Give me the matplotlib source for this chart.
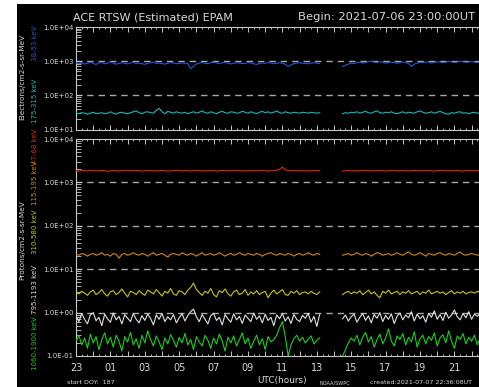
import numpy as np
import matplotlib
matplotlib.use('Agg')
import matplotlib.pyplot as plt
from matplotlib.ticker import FixedLocator, LogLocator, FuncFormatter, NullFormatter
from matplotlib.patches import Rectangle

W, H = 479, 387
nan = np.nan

# ---------------- data (10-min cadence, hours since 2021-07-06 23:00 UTC) -------------
# pre-gap values (86) , gap (7), post-gap values (49)
e38_53_pre = [880, 850, 900, 820, 870, 930, 860, 800, 890, 910, 840, 870, 950, 880, 820, 860, 900, 870, 830, 890,
              920, 860, 880, 840, 810, 870, 900, 930, 860, 880, 850, 820, 870, 910, 880, 840, 860, 890, 870, 850,
              600, 720, 830, 880, 910, 870, 840, 900, 940, 880, 860, 890, 920, 870, 830, 860, 900, 880, 850, 870,
              910, 880, 840, 800, 860, 890, 870, 910, 880, 840, 870, 900, 860, 820, 700, 780, 850, 880, 900, 870,
              860, 840, 880, 900, 870, 850]
e38_53_post = [700, 760, 820, 880, 850, 900, 930, 880, 910, 960, 1000, 940, 900, 960, 920, 880, 900, 940, 910, 870,
               920, 950, 900, 860, 700, 820, 880, 920, 900, 950, 930, 880, 910, 960, 940, 900, 930, 980, 950, 910,
               940, 1000, 960, 920, 950, 980, 930, 900, 940]

e175_315_pre = [30, 29, 31, 30, 28, 30, 32, 29, 30, 31, 29, 30, 33, 30, 28, 31, 32, 30, 29, 31,
                33, 35, 31, 29, 32, 33, 31, 30, 36, 42, 33, 29, 34, 32, 30, 33, 31, 30, 32, 29,
                31, 33, 30, 32, 35, 31, 30, 33, 31, 29, 32, 34, 31, 30, 33, 32, 30, 31, 34, 32,
                30, 33, 31, 29, 32, 34, 31, 33, 30, 32, 35, 31, 30, 33, 31, 30, 32, 31, 30, 32,
                31, 30, 32, 31, 30, 31]
e175_315_post = [29, 31, 30, 32, 31, 33, 30, 32, 34, 31, 30, 33, 35, 31, 30, 32, 31, 33, 30, 29,
                 31, 33, 30, 32, 31, 30, 33, 35, 32, 30, 31, 33, 30, 32, 34, 31, 29, 28, 31, 30,
                 32, 33, 30, 31, 29, 31, 32, 30, 31]

p47_68_pre = [1850, 1820, 1880, 1860, 1840, 1900, 1870, 1830, 1860, 1890, 1850, 1800, 1840, 1880, 1860, 1830, 1870, 1850, 1900, 1860,
              1840, 1880, 1850, 1820, 1860, 1890, 1840, 1870, 1830, 1850, 1880, 1860, 1820, 1850, 1870, 1900, 1860, 1840, 1880, 1850,
              1830, 1860, 1890, 1850, 1820, 1870, 1840, 1880, 1860, 1830, 1850, 1880, 1860, 1840, 1870, 1850, 1890, 1860, 1830, 1850,
              1870, 1840, 1880, 1850, 1860, 1890, 1850, 1830, 1870, 1860, 1900, 2000, 2250, 1950, 1870, 1850, 1880, 1840, 1860, 1870,
              1850, 1830, 1860, 1880, 1850, 1860]
p47_68_post = [1820, 1850, 1880, 1840, 1860, 1830, 1870, 1850, 1890, 1860, 1840, 1870, 1850, 1880, 1860, 1830, 1850, 1900, 1870, 1840,
               1860, 1880, 1850, 1830, 1860, 1890, 1850, 1870, 1840, 1860, 1880, 1850, 1830, 1870, 1860, 1890, 1850, 1840, 1870, 1860,
               1880, 1850, 1830, 1860, 1880, 1850, 1870, 1840, 1860]

p115_195_pre = [22, 21, 23, 22, 20, 22, 23, 21, 22, 24, 21, 22, 20, 23, 22, 18, 22, 23, 21, 22,
                24, 22, 21, 23, 22, 20, 22, 24, 21, 22, 23, 21, 19, 22, 23, 22, 21, 24, 22, 21,
                23, 22, 20, 22, 24, 21, 22, 23, 21, 22, 24, 22, 20, 22, 23, 21, 22, 24, 22, 21,
                23, 22, 21, 23, 22, 20, 22, 23, 24, 22, 21, 23, 22, 21, 23, 22, 20, 22, 23, 21,
                22, 24, 22, 21, 23, 22]
p115_195_post = [21, 22, 23, 21, 22, 24, 22, 21, 23, 22, 20, 22, 24, 23, 21, 22, 23, 21, 22, 24,
                 22, 21, 23, 25, 22, 21, 22, 24, 22, 20, 23, 22, 21, 23, 24, 22, 21, 23, 22, 21,
                 23, 25, 22, 21, 22, 23, 22, 21, 22]

p310_580_pre = [2.9, 2.7, 3.1, 2.8, 2.5, 3.0, 3.3, 2.6, 2.9, 3.4, 2.7, 2.4, 3.0, 3.2, 2.6, 2.9, 3.5, 2.8, 2.3, 3.1,
                2.9, 2.6, 3.2, 2.8, 2.5, 3.3, 3.0, 2.7, 3.4, 2.9, 2.4, 3.1, 2.8, 3.6, 2.7, 2.5, 3.2, 3.0, 2.6, 3.3,
                3.8, 4.8, 3.4, 2.9, 2.5, 3.1, 2.8, 3.6, 2.6, 2.3, 3.2, 2.9, 3.5, 2.7, 2.4, 3.0, 3.3, 2.6, 2.8, 3.4,
                2.5, 3.0, 2.7, 3.2, 2.6, 2.9, 3.1, 2.2, 2.8, 3.3, 2.7, 3.0, 3.4, 2.6, 2.5, 3.1, 2.8, 3.2, 2.6, 2.9,
                3.0, 2.7, 3.1, 2.8, 2.6, 3.0]
p310_580_post = [2.6, 2.9, 3.1, 2.7, 3.0, 2.8, 3.2, 2.6, 2.9, 3.3, 2.7, 3.0, 2.5, 2.2, 3.1, 2.8, 3.3, 2.7, 2.9, 3.1,
                 2.6, 3.0, 2.8, 3.2, 2.7, 2.9, 3.1, 2.6, 3.0, 2.8, 3.3, 2.7, 2.9, 3.1, 2.8, 3.0, 2.6, 2.9, 3.2, 2.7,
                 3.0, 2.8, 3.1, 2.7, 2.9, 3.0, 2.8, 3.1, 2.9]

p795_1193_pre = [0.85, 0.62, 0.95, 0.70, 0.55, 0.88, 1.00, 0.65, 0.78, 0.50, 0.92, 0.72, 0.60, 0.98, 0.68, 0.82, 0.55, 0.90, 0.75, 0.62,
                 0.95, 0.70, 0.58, 0.85, 0.66, 0.92, 0.74, 0.52, 0.88, 0.70, 0.96, 0.62, 0.80, 0.68, 0.90, 0.58, 0.76, 0.94, 0.64, 0.86,
                 1.05, 1.20, 0.80, 0.62, 0.90, 0.70, 0.55, 0.85, 0.96, 0.66, 0.78, 0.52, 0.90, 0.72, 0.60, 0.94, 0.68, 0.82, 0.56, 0.88,
                 0.74, 0.62, 0.98, 0.70, 0.84, 0.58, 0.92, 0.66, 0.78, 0.50, 0.88, 0.72, 0.95, 0.64, 0.80, 0.56, 0.90, 0.70, 0.62, 0.86,
                 0.74, 0.96, 0.60, 0.82, 0.48, 0.90]
p795_1193_post = [0.72, 0.88, 0.64, 0.80, 0.92, 0.60, 0.78, 0.95, 0.66, 0.84, 0.58, 0.90, 0.74, 1.00, 0.62, 0.86, 0.70, 0.94, 0.56, 0.82,
                  0.98, 0.68, 0.88, 0.76, 1.05, 0.64, 0.92, 0.72, 0.85, 0.60, 0.96, 0.78, 1.10, 0.70, 0.90, 0.66, 1.02, 0.74, 0.88, 1.15,
                  0.80, 0.68, 0.96, 0.76, 1.05, 0.70, 0.92, 0.82, 0.98]

p1060_1900_pre = [0.22, 0.30, 0.18, 0.26, 0.15, 0.32, 0.20, 0.28, 0.14, 0.24, 0.34, 0.19, 0.27, 0.16, 0.30, 0.22, 0.13, 0.28, 0.21, 0.35,
                  0.18, 0.25, 0.15, 0.30, 0.20, 0.38, 0.24, 0.17, 0.29, 0.21, 0.14, 0.26, 0.19, 0.31, 0.23, 0.16, 0.27, 0.20, 0.33, 0.18,
                  0.24, 0.14, 0.28, 0.21, 0.17, 0.30, 0.23, 0.15, 0.26, 0.19, 0.32, 0.22, 0.13, 0.27, 0.20, 0.29, 0.17, 0.24, 0.34, 0.19,
                  0.26, 0.15, 0.22, 0.30, 0.18, 0.25, 0.14, 0.28, 0.21, 0.24, 0.30, 0.45, 0.62, 0.28, 0.10, 0.18, 0.25, 0.30, 0.22, 0.27,
                  0.20, 0.24, 0.29, 0.19, 0.23, 0.26]
p1060_1900_post = [0.10, 0.14, 0.20, 0.26, 0.22, 0.30, 0.18, 0.27, 0.35, 0.21, 0.28, 0.16, 0.24, 0.32, 0.19, 0.26, 0.42, 0.22, 0.17, 0.29,
                   0.24, 0.33, 0.18, 0.27, 0.21, 0.36, 0.16, 0.25, 0.30, 0.19, 0.28, 0.23, 0.34, 0.17, 0.26, 0.31, 0.20, 0.38, 0.22, 0.15,
                   0.29, 0.24, 0.33, 0.19, 0.27, 0.22, 0.30, 0.18, 0.26]

GAP = 7
hour_labels = ['23', '01', '03', '05', '07', '09', '11', '13', '15', '17', '19', '21']

def series(pre, post):
    return np.array(pre + [nan] * GAP + post, dtype=float)

n = 86 + GAP + 49
hours = np.arange(n) / 6.0

# ---------------- figure --------------------------------------------------------------
fig = plt.figure(figsize=(W / 100, H / 100), dpi=100, facecolor='white')
fig.patches.append(Rectangle((17 / W, 0), 1 - 17 / W, 1 - 4 / H, transform=fig.transFigure,
                             facecolor='black', edgecolor='none', zorder=-10))

def fx(px):
    return px / W

def fy(py):
    return 1 - py / H

AX_L, AX_R = 76, 76 + 24 * 17.2
ax1 = fig.add_axes([fx(AX_L), fy(129.5), (AX_R - AX_L) / W, (129.5 - 27) / H])
ax2 = fig.add_axes([fx(AX_L), fy(356), (AX_R - AX_L) / W, (356 - 139) / H])

GRAY = '#c8c8c8'
DASH = '#a8a8a8'
TXT = '#d8d8d8'

def xlab(v, p):
    k = int(round(v))
    if k % 2 == 0 and k // 2 < len(hour_labels):
        return hour_labels[k // 2]
    return ''

for ax, (ylo, yhi), dashes in [(ax1, (10, 1e4), [1e3, 1e2]), (ax2, (0.1, 1e4), [1e3, 1e2, 1e1, 1e0])]:
    ax.set_facecolor('none')
    ax.set_yscale('log')
    ax.set_ylim(ylo, yhi)
    ax.set_xlim(0, 24)
    for s in ['left', 'top', 'bottom', 'right']:
        ax.spines[s].set_color(GRAY)
        ax.spines[s].set_linewidth(0.8)
    ax.xaxis.set_major_locator(FixedLocator(np.arange(0, 24, 1)))
    ax.xaxis.set_minor_locator(FixedLocator(np.arange(0, 24.01, 1 / 3)))
    ax.yaxis.set_major_locator(LogLocator(base=10, numticks=20))
    ax.yaxis.set_minor_locator(LogLocator(base=10, subs=np.arange(2, 10), numticks=20))
    ax.yaxis.set_major_formatter(FuncFormatter(lambda v, p: f"{v:.1E}"))
    ax.yaxis.set_minor_formatter(NullFormatter())
    ax.tick_params(axis='x', which='major', direction='in', length=3.5, width=0.7, color=GRAY,
                   top=True, bottom=True)
    ax.tick_params(axis='x', which='minor', direction='in', length=1.6, width=0.6, color=GRAY,
                   top=True, bottom=True)
    ax.tick_params(axis='y', which='major', direction='in', length=4.5, width=0.7, color=GRAY,
                   labelsize=5, labelcolor=TXT, pad=2)
    ax.tick_params(axis='y', which='minor', direction='in', length=3.3, width=0.6, color=GRAY)
    for d in dashes:
        ax.axhline(d, color=DASH, lw=1.0, linestyle=(0.5, (4.6, 3.6)), zorder=1)

ax1.tick_params(axis='x', labelbottom=False)
ax2.xaxis.set_major_formatter(FuncFormatter(xlab))
ax2.tick_params(axis='x', labelsize=7, labelcolor=TXT, pad=5)

LW = 0.8
ax1.plot(hours, series(e38_53_pre, e38_53_post), color='#2a55d2', lw=LW, zorder=3)
ax1.plot(hours, series(e175_315_pre, e175_315_post), color='#18b8b8', lw=LW, zorder=3)

ax2.plot(hours, series(p47_68_pre, p47_68_post), color='#e02a08', lw=LW, zorder=3)
ax2.plot(hours, series(p115_195_pre, p115_195_post), color='#d08810', lw=LW, zorder=3)
ax2.plot(hours, series(p310_580_pre, p310_580_post), color='#c8c410', lw=LW, zorder=3)
ax2.plot(hours, series(p795_1193_pre, p795_1193_post), color='#e0e0e0', lw=LW, zorder=3)
ax2.plot(hours, series(p1060_1900_pre, p1060_1900_post), color='#18d018', lw=LW, zorder=3)

# ---------------- texts ---------------------------------------------------------------
fig.text(fx(73), fy(17), "ACE RTSW (Estimated) EPAM", color=TXT, fontsize=8, ha='left', va='center')
fig.text(fx(298), fy(17), "Begin: 2021-07-06 23:00:00UT", color=TXT, fontsize=8.25, ha='left', va='center')

fig.text(fx(22), fy(77), "Electrons/cm2-s-sr-MeV", color=TXT, fontsize=5.3, rotation=90,
         ha='center', va='center')
fig.text(fx(22), fy(240), "Protons/cm2-s-sr-MeV", color=TXT, fontsize=5.3, rotation=90,
         ha='center', va='center')

lab_x = fx(35)
fig.text(lab_x, fy(43), "38-53 keV", color='#2a55d2', fontsize=5, rotation=90, ha='center', va='center')
fig.text(lab_x, fy(101), "175-315 keV", color='#18b8b8', fontsize=5, rotation=90, ha='center', va='center')
fig.text(lab_x, fy(146), "47-68 keV", color='#e02a08', fontsize=5, rotation=90, ha='center', va='center')
fig.text(lab_x, fy(183), "115-195 keV", color='#d08810', fontsize=5, rotation=90, ha='center', va='center')
fig.text(lab_x, fy(232), "310-580 keV", color='#c8c410', fontsize=5, rotation=90, ha='center', va='center')
fig.text(lab_x, fy(290), "795-1193 keV", color='#e0e0e0', fontsize=5, rotation=90, ha='center', va='center')
fig.text(lab_x, fy(343), "1060-1900 keV", color='#18d018', fontsize=5, rotation=90, ha='center', va='center')

fig.text(fx(67), fy(382), "start DOY:  187", color=TXT, fontsize=4.6, ha='left', va='center')
fig.text(fx(282), fy(381), "UTC(hours)", color=TXT, fontsize=6.4, ha='center', va='center')
fig.text(fx(320), fy(383), "NOAA/SWPC", color=TXT, fontsize=3.6, ha='left', va='center')
fig.text(fx(370), fy(383), "created:2021-07-07 22:36:08UT", color=TXT, fontsize=4.6, ha='left', va='center')

fig.savefig('out.png', dpi=100, facecolor='white')
